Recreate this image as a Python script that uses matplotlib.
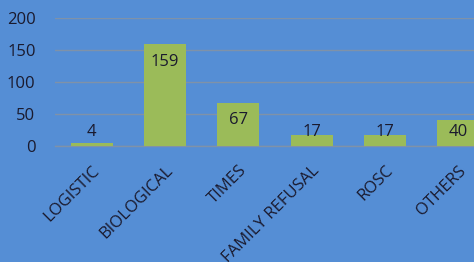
import matplotlib
matplotlib.use('Agg')
import matplotlib.pyplot as plt

categories = ['LOGISTIC', 'BIOLOGICAL', 'TIMES', 'FAMILY REFUSAL', 'ROSC', 'OTHERS']
values = [4, 159, 67, 17, 17, 40]
yticks = [0, 50, 100, 150, 200]

bg = '#558ED5'
bar_color = '#9BBB59'
grid_color = '#7F92A8'
text_color = '#1A1A2E'

plt.rcParams['font.family'] = ['Open Sans', 'DejaVu Sans']

fig = plt.figure(figsize=(4.74, 2.62), dpi=100, facecolor=bg)
ax = fig.add_axes([55 / 474, 116 / 262, 440 / 474, 128 / 262], facecolor=bg)

x = list(range(len(categories)))
ax.bar(x, values, width=0.57, color=bar_color, zorder=3)

for xi, v in zip(x, values):
    ax.text(xi, max(v - 27, 22), str(v), ha='center', va='center',
            fontsize=12, color=text_color, zorder=4)

ax.set_xlim(-0.5, len(categories) - 0.5)
ax.set_ylim(0, 200)
ax.set_yticks(yticks)
ax.set_yticklabels([str(t) for t in yticks], fontsize=12, color=text_color)
ax.set_xticks(x)
ax.set_xticklabels(categories, rotation=45, ha='right', rotation_mode='anchor',
                   fontsize=12, color=text_color)
ax.tick_params(axis='both', length=0)
ax.tick_params(axis='y', pad=14)
ax.tick_params(axis='x', pad=12)

ax.grid(axis='y', color=grid_color, linewidth=1, zorder=0)
for side in ['top', 'right', 'left']:
    ax.spines[side].set_visible(False)
ax.spines['bottom'].set_color(grid_color)
ax.spines['bottom'].set_linewidth(1)

fig.savefig('out.png', dpi=100, facecolor=bg)
